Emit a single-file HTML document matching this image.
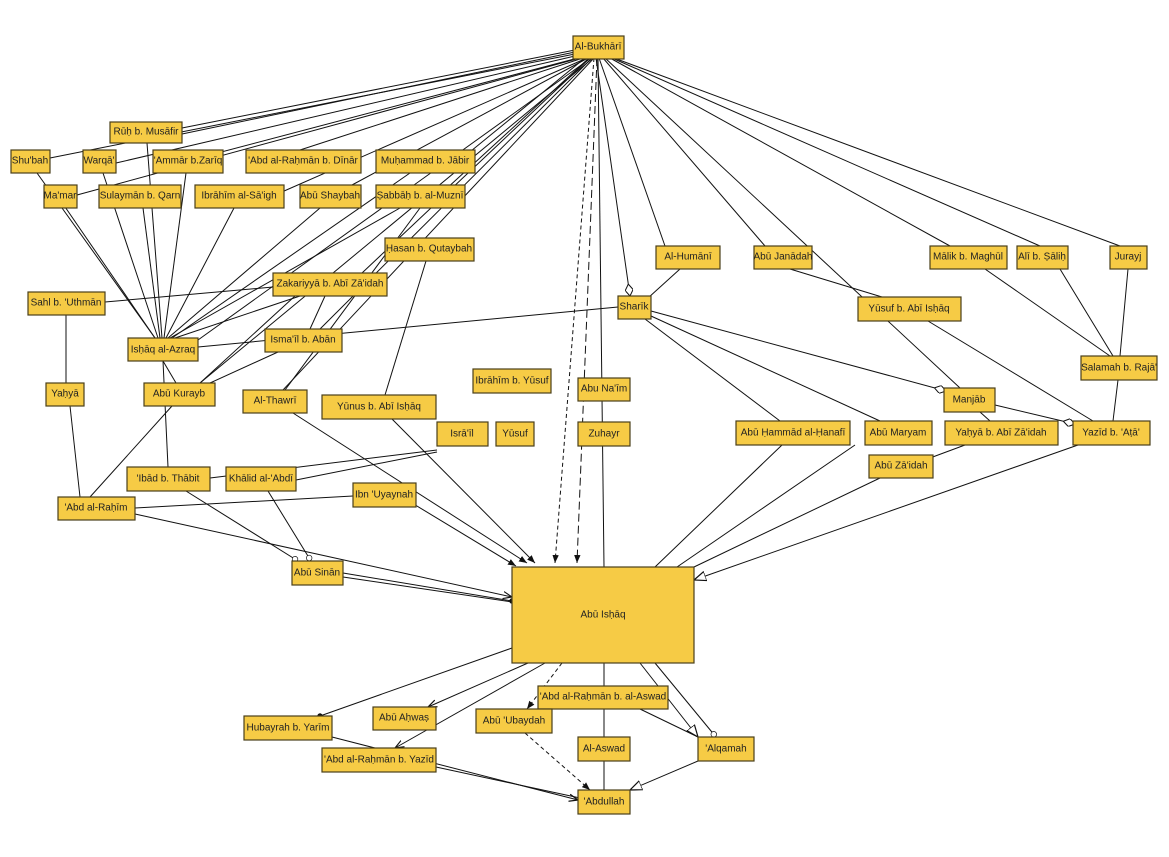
<!DOCTYPE html>
<html><head><meta charset="utf-8"><style>
body{margin:0;background:#fff;width:1169px;height:857px;overflow:hidden}
svg{display:block}
rect{fill:#f6cb45;stroke:#4a3f1a;stroke-width:1.2}
text{font-family:"Liberation Sans",sans-serif;font-size:10px;fill:#222;text-anchor:middle;dominant-baseline:central}
line,polyline{stroke:#111;stroke-width:1;fill:none}
</style></head><body>
<svg width="1169" height="857" viewBox="0 0 1169 857">
<defs>
<marker id="ar" viewBox="0 0 10 10" refX="10" refY="5" markerWidth="9" markerHeight="9" orient="auto"><path d="M0,1 L10,5 L0,9" fill="none" stroke="#111" stroke-width="1.3"/></marker>
<marker id="af" viewBox="0 0 10 10" refX="10" refY="5" markerWidth="8" markerHeight="8" orient="auto"><path d="M0,1 L10,5 L0,9z" fill="#111"/></marker>
<marker id="ao" viewBox="0 0 10 10" refX="10" refY="5" markerWidth="12" markerHeight="12" orient="auto"><path d="M0,1 L10,5 L0,9z" fill="#fff" stroke="#111"/></marker>
<marker id="dm" viewBox="0 0 12 8" refX="12" refY="4" markerWidth="12" markerHeight="8" orient="auto"><path d="M0,4 L6,0 L12,4 L6,8z" fill="#fff" stroke="#111"/></marker>
<marker id="ci" viewBox="0 0 10 10" refX="10" refY="5" markerWidth="7" markerHeight="7" orient="auto"><circle cx="5" cy="5" r="4" fill="#fff" stroke="#111"/></marker>
<marker id="dt" viewBox="0 0 10 10" refX="5" refY="5" markerWidth="6" markerHeight="6" orient="auto"><circle cx="5" cy="5" r="4.5" fill="#111"/></marker>
</defs>
<g>
<!-- Bukhari fan -->
<line x1="575" y1="50" x2="182" y2="128"/><line x1="575" y1="52" x2="182" y2="134"/>
<line x1="575" y1="54" x2="50" y2="158"/><line x1="575" y1="56" x2="116" y2="163"/>
<line x1="578" y1="58" x2="153" y2="170"/><line x1="580" y1="58" x2="77" y2="195"/>
<line x1="583" y1="58" x2="300" y2="150"/><line x1="585" y1="58" x2="460" y2="160"/>
<line x1="587" y1="58" x2="275" y2="195"/><line x1="588" y1="58" x2="352" y2="185"/>
<line x1="589" y1="58" x2="445" y2="190"/><line x1="590" y1="58" x2="362" y2="273"/>
<line x1="591" y1="58" x2="198" y2="340"/><line x1="592" y1="58" x2="320" y2="329"/>
<line x1="593" y1="58" x2="200" y2="383"/><line x1="594" y1="58" x2="283" y2="390"/>
<line x1="596" y1="58" x2="630" y2="296" stroke="#555" marker-end="url(#dm)"/>
<line x1="598" y1="58" x2="604" y2="567" stroke-width="2.4"/>
<line x1="599" y1="58" x2="665" y2="246" stroke="#444"/>
<line x1="603" y1="58" x2="765" y2="246"/>
<line x1="605" y1="58" x2="960" y2="388"/>
<line x1="610" y1="58" x2="950" y2="246"/>
<line x1="612" y1="58" x2="1040" y2="246"/>
<line x1="614" y1="58" x2="1120" y2="246"/>
<line x1="594" y1="58" x2="555" y2="563" stroke-dasharray="4,3" marker-end="url(#af)"/>
<line x1="597" y1="58" x2="577" y2="563" stroke-dasharray="8,4" stroke-width="1.8" marker-end="url(#af)"/>
<!-- Ishaq al-Azraq fan -->
<line x1="155" y1="338" x2="37" y2="173"/><line x1="155" y1="338" x2="50" y2="185"/>
<line x1="158" y1="338" x2="103" y2="173"/><line x1="160" y1="338" x2="143" y2="208"/>
<line x1="162" y1="338" x2="147" y2="143"/><line x1="164" y1="338" x2="186" y2="173"/>
<line x1="166" y1="338" x2="234" y2="208"/><line x1="168" y1="338" x2="320" y2="208"/>
<line x1="170" y1="338" x2="400" y2="208"/><line x1="172" y1="338" x2="410" y2="173"/>
<line x1="175" y1="338" x2="300" y2="296"/>
<line x1="198" y1="347" x2="618" y2="307"/>
<line x1="105" y1="302" x2="273" y2="287"/>
<line x1="66" y1="315" x2="66" y2="383"/>
<line x1="70" y1="406" x2="80" y2="497"/>
<line x1="172" y1="406" x2="90" y2="497"/>
<line x1="295" y1="296" x2="200" y2="383"/><line x1="278" y1="352" x2="210" y2="383"/>
<line x1="325" y1="296" x2="310" y2="329"/>
<line x1="163" y1="361" x2="168" y2="467"/><line x1="163" y1="361" x2="176" y2="383"/>
<line x1="426" y1="261" x2="385" y2="395"/>
<line x1="420" y1="208" x2="285" y2="390"/>
<line x1="293" y1="413" x2="527" y2="563" marker-end="url(#af)"/>
<line x1="392" y1="419" x2="535" y2="563" marker-end="url(#af)"/>
<line x1="437" y1="450" x2="210" y2="478"/><line x1="437" y1="452" x2="296" y2="480"/>
<line x1="407" y1="500" x2="516" y2="566" marker-end="url(#af)"/>
<line x1="135" y1="508" x2="353" y2="496"/>
<line x1="135" y1="514" x2="512" y2="597" marker-end="url(#ar)"/>
<line x1="186" y1="491" x2="298" y2="561" marker-end="url(#ci)"/>
<line x1="268" y1="491" x2="311" y2="561" marker-end="url(#ci)"/>
<line x1="343" y1="573" x2="512" y2="601" marker-end="url(#dt)"/>
<line x1="343" y1="577" x2="512" y2="602"/>
<!-- right side -->
<line x1="680" y1="269" x2="648" y2="298"/>
<line x1="651" y1="311" x2="946" y2="391" marker-end="url(#dm)"/>
<line x1="645" y1="319" x2="780" y2="421"/>
<line x1="651" y1="316" x2="880" y2="421"/>
<line x1="790" y1="269" x2="882" y2="297"/>
<line x1="928" y1="321" x2="1093" y2="421"/>
<line x1="985" y1="269" x2="1110" y2="356"/>
<line x1="1060" y1="269" x2="1113" y2="356"/>
<line x1="1128" y1="269" x2="1120" y2="356"/>
<line x1="1118" y1="380" x2="1113" y2="421"/>
<line x1="995" y1="405" x2="1075" y2="424" marker-end="url(#dm)"/>
<line x1="980" y1="412" x2="990" y2="421"/>
<line x1="965" y1="445" x2="930" y2="458"/>
<line x1="782" y1="445" x2="655" y2="567"/>
<line x1="880" y1="445" x2="702" y2="567" transform="translate(-25,0)"/>
<line x1="880" y1="478" x2="694" y2="567"/>
<line x1="1078" y1="445" x2="694" y2="580" marker-end="url(#ao)"/>
<!-- bottom -->
<line x1="512" y1="648" x2="320" y2="716" marker-end="url(#dt)"/>
<line x1="528" y1="663" x2="428" y2="707" marker-end="url(#ar)"/>
<line x1="545" y1="663" x2="395" y2="748" marker-end="url(#ar)"/>
<line x1="562" y1="663" x2="527" y2="709" stroke-dasharray="4,3" marker-end="url(#af)"/>
<line x1="640" y1="663" x2="698" y2="737" marker-end="url(#ao)"/>
<line x1="655" y1="663" x2="716" y2="737" marker-end="url(#ci)"/>
<line x1="604" y1="663" x2="604" y2="790" stroke-width="2.4"/>
<line x1="640" y1="709" x2="698" y2="737"/>
<line x1="332" y1="737" x2="578" y2="800" marker-end="url(#ar)"/>
<line x1="436" y1="767" x2="580" y2="798" marker-end="url(#dt)"/>
<line x1="525" y1="733" x2="590" y2="790" stroke-dasharray="4,3" marker-end="url(#af)"/>
<line x1="698" y1="761" x2="630" y2="790" marker-end="url(#ao)"/>
</g>
<g>
<rect x="573" y="36" width="51" height="23"/><text x="598" y="47">Al-Bukhārī</text>
<rect x="110" y="122" width="72" height="21"/><text x="146" y="132">Rūḥ b. Musāfir</text>
<rect x="11" y="150" width="39" height="23"/><text x="30" y="161">Shu'bah</text>
<rect x="83" y="150" width="33" height="23"/><text x="99" y="161">Warqā'</text>
<rect x="153" y="150" width="70" height="23"/><text x="188" y="161">'Ammār b.Zarīq</text>
<rect x="246" y="150" width="115" height="23"/><text x="303" y="161">'Abd al-Raḥmān b. Dīnār</text>
<rect x="376" y="150" width="99" height="23"/><text x="425" y="161">Muḥammad b. Jābir</text>
<rect x="44" y="185" width="33" height="23"/><text x="60" y="196">Ma'mar</text>
<rect x="99" y="185" width="82" height="23"/><text x="140" y="196">Sulaymān b. Qarn</text>
<rect x="195" y="185" width="89" height="23"/><text x="239" y="196">Ibrāhīm al-Sā'igh</text>
<rect x="300" y="185" width="61" height="23"/><text x="330" y="196">Abū Shaybah</text>
<rect x="376" y="185" width="89" height="23"/><text x="420" y="196">Ṣabbāḥ b. al-Muznī</text>
<rect x="385" y="238" width="89" height="23"/><text x="429" y="249">Ḥasan b. Qutaybah</text>
<rect x="273" y="273" width="114" height="23"/><text x="330" y="284">Zakariyyā b. Abī Zā'idah</text>
<rect x="28" y="292" width="77" height="23"/><text x="66" y="303">Sahl b. 'Uthmān</text>
<rect x="265" y="329" width="77" height="23"/><text x="303" y="340">Isma'īl b. Abān</text>
<rect x="128" y="338" width="70" height="23"/><text x="163" y="350">Isḥāq al-Azraq</text>
<rect x="46" y="383" width="38" height="23"/><text x="65" y="394">Yaḥyā</text>
<rect x="144" y="383" width="71" height="23"/><text x="179" y="394">Abū Kurayb</text>
<rect x="243" y="390" width="64" height="23"/><text x="275" y="401">Al-Thawrī</text>
<rect x="322" y="395" width="114" height="24"/><text x="379" y="407">Yūnus b. Abī Isḥāq</text>
<rect x="473" y="369" width="78" height="24"/><text x="512" y="381">Ibrāhīm b. Yūsuf</text>
<rect x="578" y="378" width="52" height="23"/><text x="604" y="389">Abu Na'īm</text>
<rect x="437" y="422" width="51" height="24"/><text x="462" y="434">Isrā'īl</text>
<rect x="496" y="422" width="38" height="24"/><text x="515" y="434">Yūsuf</text>
<rect x="578" y="422" width="52" height="24"/><text x="604" y="434">Zuhayr</text>
<rect x="127" y="467" width="83" height="24"/><text x="168" y="479">'Ibād b. Thābit</text>
<rect x="226" y="467" width="70" height="24"/><text x="261" y="479">Khālid al-'Abdī</text>
<rect x="353" y="483" width="63" height="24"/><text x="384" y="495">Ibn 'Uyaynah</text>
<rect x="58" y="497" width="77" height="23"/><text x="96" y="508">'Abd al-Raḥīm</text>
<rect x="292" y="561" width="51" height="24"/><text x="317" y="573">Abū Sinān</text>
<rect x="512" y="567" width="182" height="96"/><text x="603" y="615">Abū Isḥāq</text>
<rect x="656" y="246" width="64" height="23"/><text x="688" y="257">Al-Humānī</text>
<rect x="754" y="246" width="58" height="23"/><text x="783" y="257">Abū Janādah</text>
<rect x="930" y="246" width="77" height="23"/><text x="968" y="257">Mālik b. Maghūl</text>
<rect x="1017" y="246" width="51" height="23"/><text x="1042" y="257">Alī b. Ṣāliḥ</text>
<rect x="1110" y="246" width="37" height="23"/><text x="1128" y="257">Jurayj</text>
<rect x="618" y="296" width="33" height="23"/><text x="634" y="307">Sharīk</text>
<rect x="858" y="297" width="103" height="24"/><text x="909" y="309">Yūsuf b. Abī Isḥāq</text>
<rect x="1081" y="356" width="76" height="24"/><text x="1119" y="368">Salamah b. Rajā'</text>
<rect x="944" y="388" width="51" height="24"/><text x="969" y="400">Manjāb</text>
<rect x="736" y="421" width="114" height="24"/><text x="793" y="433">Abū Ḥammād al-Ḥanafī</text>
<rect x="865" y="421" width="67" height="24"/><text x="898" y="433">Abū Maryam</text>
<rect x="945" y="421" width="113" height="24"/><text x="1001" y="433">Yaḥyā b. Abī Zā'idah</text>
<rect x="1073" y="421" width="77" height="24"/><text x="1111" y="433">Yazīd b. 'Aṭā'</text>
<rect x="869" y="455" width="64" height="23"/><text x="901" y="466">Abū Zā'idah</text>
<rect x="244" y="716" width="88" height="24"/><text x="288" y="728">Hubayrah b. Yarīm</text>
<rect x="373" y="707" width="63" height="23"/><text x="404" y="718">Abū Aḥwaṣ</text>
<rect x="322" y="748" width="114" height="24"/><text x="379" y="760">'Abd al-Raḥmān b. Yazīd</text>
<rect x="538" y="686" width="130" height="23"/><text x="603" y="697">'Abd al-Raḥmān b. al-Aswad</text>
<rect x="476" y="709" width="76" height="24"/><text x="514" y="721">Abū 'Ubaydah</text>
<rect x="578" y="737" width="52" height="24"/><text x="604" y="749">Al-Aswad</text>
<rect x="698" y="737" width="56" height="24"/><text x="726" y="749">'Alqamah</text>
<rect x="578" y="790" width="52" height="24"/><text x="604" y="802">'Abdullah</text>
</g>
</svg>
</body></html>
